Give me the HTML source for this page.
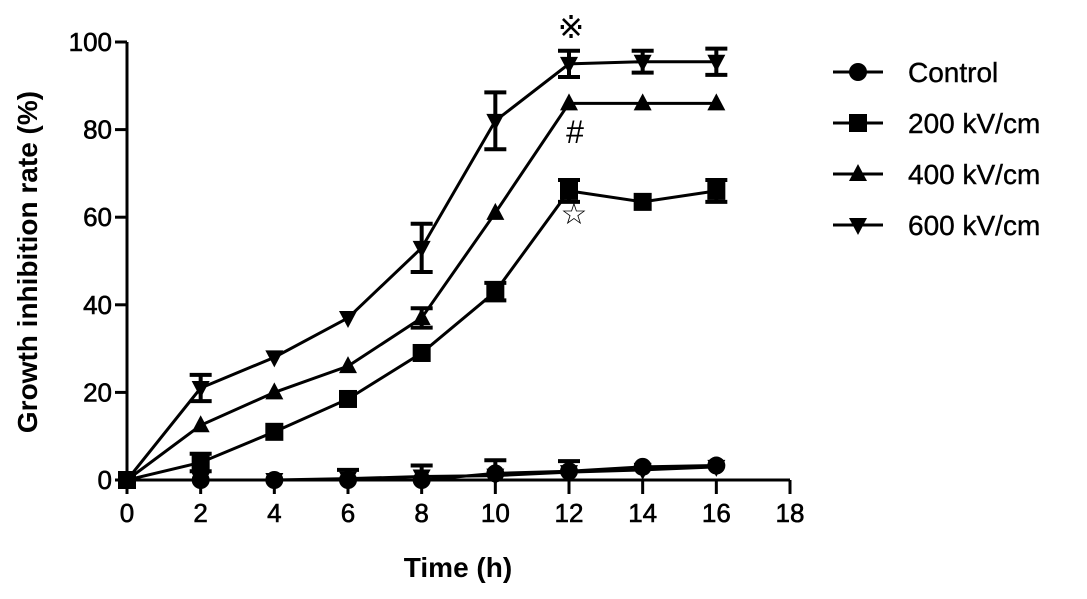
<!DOCTYPE html>
<html><head><meta charset="utf-8"><style>
body{margin:0;background:#fff;}
svg text{font-family:"Liberation Sans",Arial,sans-serif;}
</style></head><body>
<svg id="chart" width="1087" height="594" viewBox="0 0 1087 594" xmlns="http://www.w3.org/2000/svg">
<g id="axes"></g>
<g id="plot"></g>
<g id="legend"></g>
<text x="458" y="577" text-anchor="middle" font-size="28" font-weight="bold">Time (h)</text>
<text transform="translate(37,262) rotate(-90)" text-anchor="middle" font-size="28" font-weight="bold">Growth inhibition rate (%)</text>
<text x="571" y="38" text-anchor="middle" font-size="32">※</text>
<text x="575" y="143" text-anchor="middle" font-size="32">#</text>
<text x="574" y="224" text-anchor="middle" font-size="30">☆</text>
</svg>
<script>
const times=[0,2,4,6,8,10,12,14,16];
const xTicks=[0,2,4,6,8,10,12,14,16,18];
const yTicks=[0,20,40,60,80,100];
const controlVals=[0,0,0,0,0,1.5,2,3,3.3];
const controlLowVals=[0,0,0,0.3,0.8,1,1.8,2.3,3];
const controlLowErr=[0,0,0,2,2.5,3.5,2.5,0,0];
const kv200Vals=[0,4,11,18.5,29,43,66,63.5,66];
const kv200Err=[0,2,0,0,0,2,2.5,0,2.5];
const kv400Vals=[0,12.5,20,26,37,61,86,86,86];
const kv400Err=[0,0,0,0,2.2,0,0,0,0];
const kv600Vals=[0,21,28,37,53,82,95,95.5,95.5];
const kv600Err=[0,3,0,0,5.5,6.5,3,2.5,3];
const legendLabels=["Control","200 kV/cm","400 kV/cm","600 kV/cm"];
const NS="http://www.w3.org/2000/svg";
const X=v=>127+v*(663/18);
const Y=v=>480-v*4.38;
function mk(t,a,p){const e=document.createElementNS(NS,t);for(const k in a)e.setAttribute(k,a[k]);p.appendChild(e);return e;}
const axes=document.getElementById('axes'),plot=document.getElementById('plot'),leg=document.getElementById('legend');
let e=mk('line',{x1:X(0),y1:Y(0),x2:X(18),y2:Y(0),stroke:'#000','stroke-width':3},axes);

e=mk('line',{x1:X(0),y1:Y(0)+1,x2:X(0),y2:Y(100),stroke:'#000','stroke-width':3},axes);

xTicks.forEach(t=>{
 let l=mk('line',{x1:X(t),y1:Y(0),x2:X(t),y2:Y(0)+14,stroke:'#000','stroke-width':3},axes);
 
 let s=mk('text',{x:X(t),y:Y(0)+42,'text-anchor':'middle','font-size':26,stroke:'#000','stroke-width':0.6},axes);s.textContent=t;
 
});
yTicks.forEach(t=>{
 let l=mk('line',{x1:X(0)-12,y1:Y(t),x2:X(0),y2:Y(t),stroke:'#000','stroke-width':3},axes);
 
 let s=mk('text',{x:X(0)-15,y:Y(t)+9,'text-anchor':'end','font-size':26,stroke:'#000','stroke-width':0.6},axes);s.textContent=t;
 
});
function marker(type,cx,cy,p,r){
 r=r||9;let m;
 if(type==='circle')m=mk('circle',{cx:cx,cy:cy,r:r},p);
 else if(type==='square')m=mk('rect',{x:cx-r,y:cy-r,width:2*r,height:2*r},p);
 else if(type==='tri')m=mk('polygon',{points:`${cx},${cy-r-1} ${cx-r},${cy+r-2} ${cx+r},${cy+r-2}`},p);
 else m=mk('polygon',{points:`${cx},${cy+r+1} ${cx-r},${cy-r+2} ${cx+r},${cy-r+2}`},p);
 m.setAttribute('fill','#000');return m;
}
function series(name,vals,err,type,oneSided){
 const g=mk('g',{},plot);
 
 const pl=mk('polyline',{points:vals.map((v,i)=>X(times[i])+','+Y(v)).join(' '),fill:'none',stroke:'#000','stroke-width':3},g);
 
 vals.forEach((v,i)=>{
  if(err&&err[i]>0.8){
   const x=X(times[i]),a=Y(v+err[i]),b=oneSided?Y(v):Y(v-err[i]);
   const d=oneSided?`M${x},${a}V${b}M${x-11},${a}H${x+11}`:`M${x},${a}V${b}M${x-11},${a}H${x+11}M${x-11},${b}H${x+11}`;
   const eb=mk('path',{d:d,stroke:'#000','stroke-width':4,fill:'none'},g);
   
  }
  const m=marker(type,X(times[i]),Y(v),g);
  
  
 });
}
series('control-low',controlLowVals,controlLowErr,'dtri',true);
series('control',controlVals,null,'circle');
series('kv200',kv200Vals,kv200Err,'square');
series('kv400',kv400Vals,kv400Err,'tri');
series('kv600',kv600Vals,kv600Err,'dtri');
const types=['circle','square','tri','dtri'];
legendLabels.forEach((lab,i)=>{
 const y=72+i*51;
 const g=mk('g',{},leg);
 
 mk('line',{x1:833,y1:y,x2:883,y2:y,stroke:'#000','stroke-width':3},g);
 marker(types[i],858,y,g);
 const t=mk('text',{x:908,y:y+10,'font-size':28,stroke:'#000','stroke-width':0.4},g);t.textContent=lab;
 
});
</script>
</body></html>
